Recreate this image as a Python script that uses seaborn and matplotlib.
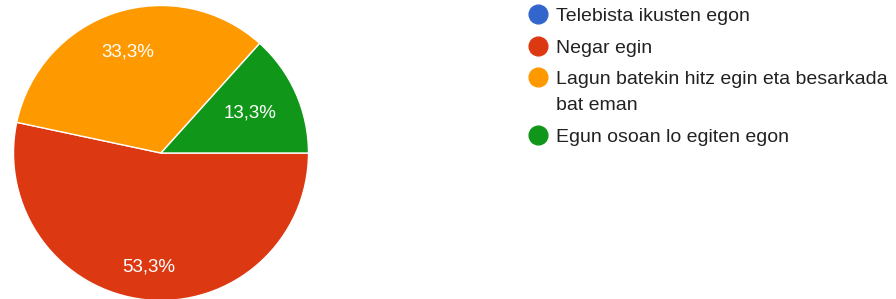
import matplotlib
matplotlib.use("Agg")
import matplotlib.pyplot as plt
from matplotlib.lines import Line2D
from matplotlib.legend_handler import HandlerLine2D
import seaborn as sns

categories = ["Telebista ikusten egon", "Negar egin",
              "Lagun batekin hitz egin eta besarkada\nbat eman",
              "Egun osoan lo egiten egon"]
counts = [0, 8, 5, 2]   # 0 %, 53,3 %, 33,3 %, 13,3 %
colors = ["#3366cc", "#dc3912", "#ff9900", "#109618"]

sns.set_theme(style="white")
plt.rcParams['font.family'] = ['Liberation Sans', 'DejaVu Sans']

fig = plt.figure(figsize=(8.96, 2.99), dpi=100)
fig.patch.set_facecolor("white")

W, H = 896, 299
cx, cy, r = 161, 153, 147.5
ax = fig.add_axes([(cx - r) / W, (H - cy - r) / H, 2 * r / W, 2 * r / H])


def fmt(p):
    if p < 0.05:
        return ""
    return f"{p:.1f}".replace(".", ",") + "%"


wedges, texts, autotexts = ax.pie(
    counts, colors=colors, startangle=0, counterclock=False,
    autopct=fmt, pctdistance=0.72, radius=1,
    wedgeprops=dict(edgecolor="white", linewidth=1.0),
    textprops=dict(color="white", fontsize=13.5))
# label distance per wedge (Google-like placement)
dist = [1.0, 0.78, 0.72, 0.66]
for t, d in zip(autotexts, dist):
    x, y = t.get_position()
    t.set_position((x * d / 0.72, y * d / 0.72))
ax.set_xlim(-1, 1)
ax.set_ylim(-1, 1)
ax.set_aspect("equal")
ax.axis("off")


class TopAlignHandler(HandlerLine2D):
    """Puts the marker next to the first line of a wrapped label."""

    def __init__(self, shift_pt, **kw):
        super().__init__(**kw)
        self.shift_pt = shift_pt

    def create_artists(self, legend, orig_handle, xdescent, ydescent,
                       width, height, fontsize, trans):
        arts = super().create_artists(legend, orig_handle, xdescent, ydescent,
                                      width, height, fontsize, trans)
        for a in arts:
            if isinstance(a, Line2D):
                a.set_ydata([y + self.shift_pt for y in a.get_ydata()])
        return arts


handles = [Line2D([0], [0], marker="o", linestyle="", markersize=13.5,
                  markerfacecolor=c, markeredgecolor=c) for c in colors]
handler_map = {handles[2]: TopAlignHandler(10.8)}
leg = fig.legend(handles, categories, loc="upper left",
                 bbox_to_anchor=(528 / W, 1 - 7 / H), frameon=False,
                 fontsize=14, labelcolor="#222222", handlelength=1.0,
                 handletextpad=0.45, labelspacing=0.75, borderaxespad=0,
                 borderpad=0, handler_map=handler_map)
for t in leg.get_texts():
    t.set_linespacing(1.65)

fig.savefig("out.png", dpi=100, facecolor="white")
